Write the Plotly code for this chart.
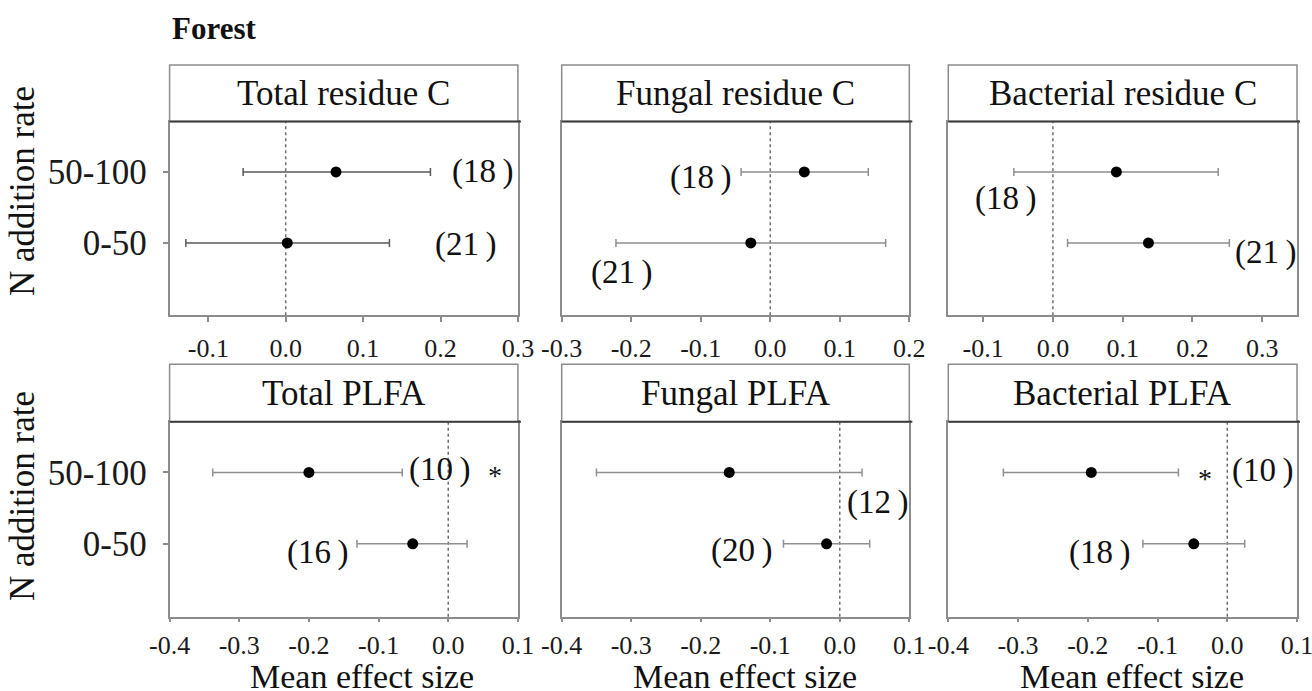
import plotly.graph_objects as go

# ---------------- data ----------------
titles = ["Total residue C", "Fungal residue C", "Bacterial residue C",
          "Total PLFA", "Fungal PLFA", "Bacterial PLFA"]
rates = ["0-50", "50-100"]

mean_0_50 = [0.002, -0.028, 0.137, -0.051, -0.019, -0.048]
low_0_50 = [-0.129, -0.222, 0.021, -0.131, -0.081, -0.121]
high_0_50 = [0.134, 0.166, 0.253, 0.027, 0.043, 0.025]

mean_50_100 = [0.065, 0.049, 0.091, -0.200, -0.159, -0.195]
low_50_100 = [-0.055, -0.042, -0.056, -0.338, -0.350, -0.321]
high_50_100 = [0.187, 0.141, 0.237, -0.066, 0.032, -0.070]

n_0_50 = [21, 21, 21, 16, 20, 18]
n_50_100 = [18, 18, 18, 10, 12, 10]
signif_50_100 = [False, False, False, True, False, True]

x_ranges = [[-0.15, 0.30], [-0.30, 0.20], [-0.15, 0.35],
            [-0.40, 0.10], [-0.40, 0.10], [-0.40, 0.10]]
tick_vals = [[-0.1, 0.0, 0.1, 0.2, 0.3],
             [-0.3, -0.2, -0.1, 0.0, 0.1, 0.2],
             [-0.1, 0.0, 0.1, 0.2, 0.3],
             [-0.4, -0.3, -0.2, -0.1, 0.0, 0.1],
             [-0.4, -0.3, -0.2, -0.1, 0.0, 0.1],
             [-0.4, -0.3, -0.2, -0.1, 0.0, 0.1]]
tick_text = [["-0.1", "0.0", "0.1", "0.2", "0.3"],
             ["-0.3", "-0.2", "-0.1", "0.0", "0.1", "0.2"],
             ["-0.1", "0.0", "0.1", "0.2", "0.3"],
             ["-0.4", "-0.3", "-0.2", "-0.1", "0.0", "0.1"],
             ["-0.4", "-0.3", "-0.2", "-0.1", "0.0", "0.1"],
             ["-0.4", "-0.3", "-0.2", "-0.1", "0.0", "0.1"]]

# ---------------- layout helpers (label placement, geometry) ----------------
lab_0_50_pos = [(0.233, 0.98), (-0.213, 0.58), (0.305, 0.86),
                (-0.187, 0.88), (-0.140, 0.91), (-0.183, 0.88)]
lab_50_100_pos = [(0.255, 2.0), (-0.100, 1.92), (-0.067, 1.63),
                  (-0.012, 2.04), (0.055, 1.58), (0.051, 2.02)]
star_pos = [None, None, None, (0.067, 1.95), None, (-0.032, 1.92)]
bar_colors = ["#5a5a5a", "#8f8f8f", "#8f8f8f", "#8f8f8f", "#8f8f8f", "#8f8f8f"]

W, H = 1312, 691
col_x = [(169.6, 517.9), (561.7, 909.3), (948.3, 1297.0)]
row_y = [dict(head=65.0, sep=121.5, bot=315.3),
         dict(head=364.3, sep=421.7, bot=616.7)]
FONT = "Liberation Serif, Times New Roman, serif"
FRAME = "#8c8c8c"

fig = go.Figure()
shapes, annotations = [], []
layout_axes = {}

for i in range(6):
    r, c = divmod(i, 3)
    k = i + 1
    xa = "x" if k == 1 else f"x{k}"
    ya = "y" if k == 1 else f"y{k}"
    xkey = "xaxis" if k == 1 else f"xaxis{k}"
    ykey = "yaxis" if k == 1 else f"yaxis{k}"
    x0, x1 = col_x[c]
    rg = row_y[r]

    means = [mean_0_50[i], mean_50_100[i]]
    lows = [low_0_50[i], low_50_100[i]]
    highs = [high_0_50[i], high_50_100[i]]
    fig.add_trace(go.Scatter(
        x=means, y=[1, 2], mode="markers",
        marker=dict(color="black", size=11),
        error_x=dict(type="data", symmetric=False,
                     array=[h - m for h, m in zip(highs, means)],
                     arrayminus=[m - l for m, l in zip(means, lows)],
                     color=bar_colors[i], thickness=1.5, width=4),
        xaxis=xa, yaxis=ya, showlegend=False, hoverinfo="skip",
        cliponaxis=False))

    layout_axes[xkey] = dict(
        domain=[x0 / W, x1 / W], range=x_ranges[i], anchor=ya,
        automargin=False, ticklabeloverflow="allow",
        tickmode="array", tickvals=tick_vals[i], ticktext=tick_text[i],
        ticks="outside", ticklen=5 if r == 0 else 4, tickwidth=1.5,
        tickcolor=FRAME,
        showline=True, linecolor=FRAME, linewidth=1.5, mirror=True,
        showgrid=False, zeroline=False,
        ticklabelstandoff=4 if r == 0 else 0,
        tickfont=dict(family=FONT, size=26, color="#1a1a1a"))
    layout_axes[ykey] = dict(
        domain=[1 - rg["bot"] / H, 1 - rg["sep"] / H], range=[-0.02, 2.71],
        anchor=xa, automargin=False,
        tickmode="array", tickvals=[1, 2], ticktext=rates,
        showticklabels=(c == 0), ticks="outside" if c == 0 else "",
        ticklen=5, tickwidth=1.5, tickcolor=FRAME,
        showline=True, linecolor=FRAME, linewidth=1.5, mirror=True,
        showgrid=False, zeroline=False, ticklabelstandoff=9,
        tickfont=dict(family=FONT, size=35, color="#1a1a1a"))

    # zero reference line
    shapes.append(dict(type="line", xref=xa, yref=f"{ya} domain",
                       x0=0, x1=0, y0=0, y1=1, layer="below",
                       line=dict(color="#6e6e6e", width=1.5, dash="dot")))
    # header box
    shapes.append(dict(type="rect", xref="paper", yref="paper",
                       x0=x0 / W, x1=x1 / W,
                       y0=1 - rg["sep"] / H, y1=1 - rg["head"] / H,
                       line=dict(color=FRAME, width=1.5), fillcolor="white"))
    shapes.append(dict(type="line", xref="paper", yref="paper",
                       x0=x0 / W, x1=(x1 + 3) / W,
                       y0=1 - rg["sep"] / H, y1=1 - rg["sep"] / H,
                       line=dict(color="#3c3c3c", width=2)))
    annotations.append(dict(
        text=titles[i], xref="paper", yref="paper",
        x=(x0 + x1) / 2 / W, y=1 - (rg["head"] + rg["sep"]) / 2 / H,
        xanchor="center", yanchor="middle", showarrow=False,
        font=dict(family=FONT, size=35, color="#111")))

    # sample size labels
    lx, ly = lab_0_50_pos[i]
    annotations.append(dict(text=f"({n_0_50[i]}\u2009)", xref=xa, yref=ya,
                            x=lx, y=ly, showarrow=False,
                            xanchor="center", yanchor="middle",
                            font=dict(family=FONT, size=33, color="#111")))
    lx, ly = lab_50_100_pos[i]
    annotations.append(dict(text=f"({n_50_100[i]}\u2009)", xref=xa, yref=ya,
                            x=lx, y=ly, showarrow=False,
                            xanchor="center", yanchor="middle",
                            font=dict(family=FONT, size=33, color="#111")))
    if signif_50_100[i]:
        sx, sy = star_pos[i]
        annotations.append(dict(text="*", xref=xa, yref=ya, x=sx, y=sy,
                                showarrow=False, xanchor="center",
                                yanchor="middle",
                                font=dict(family=FONT, size=28, color="#111")))

    if r == 1:
        mid = [362, 745, 1132][c]
        annotations.append(dict(text="Mean effect size", xref="paper",
                                yref="paper", x=mid / W, y=1 - 676 / H,
                                xanchor="center", yanchor="middle",
                                showarrow=False,
                                font=dict(family=FONT, size=34, color="#111")))

for yc in (191, 496):
    annotations.append(dict(text="N addition rate", xref="paper", yref="paper",
                            x=22 / W, y=1 - yc / H, textangle=-90,
                            xanchor="center", yanchor="middle",
                            showarrow=False,
                            font=dict(family=FONT, size=35, color="#111")))

annotations.append(dict(text="<b>Forest</b>", xref="paper", yref="paper",
                        x=170 / W, y=1 - 29 / H, xanchor="left",
                        yanchor="middle", showarrow=False,
                        font=dict(family=FONT, size=31, color="#111")))

fig.update_layout(width=W, height=H, margin=dict(l=0, r=0, t=0, b=0),
                  paper_bgcolor="white", plot_bgcolor="white",
                  shapes=shapes, annotations=annotations, **layout_axes)

fig.write_html("out.html")
